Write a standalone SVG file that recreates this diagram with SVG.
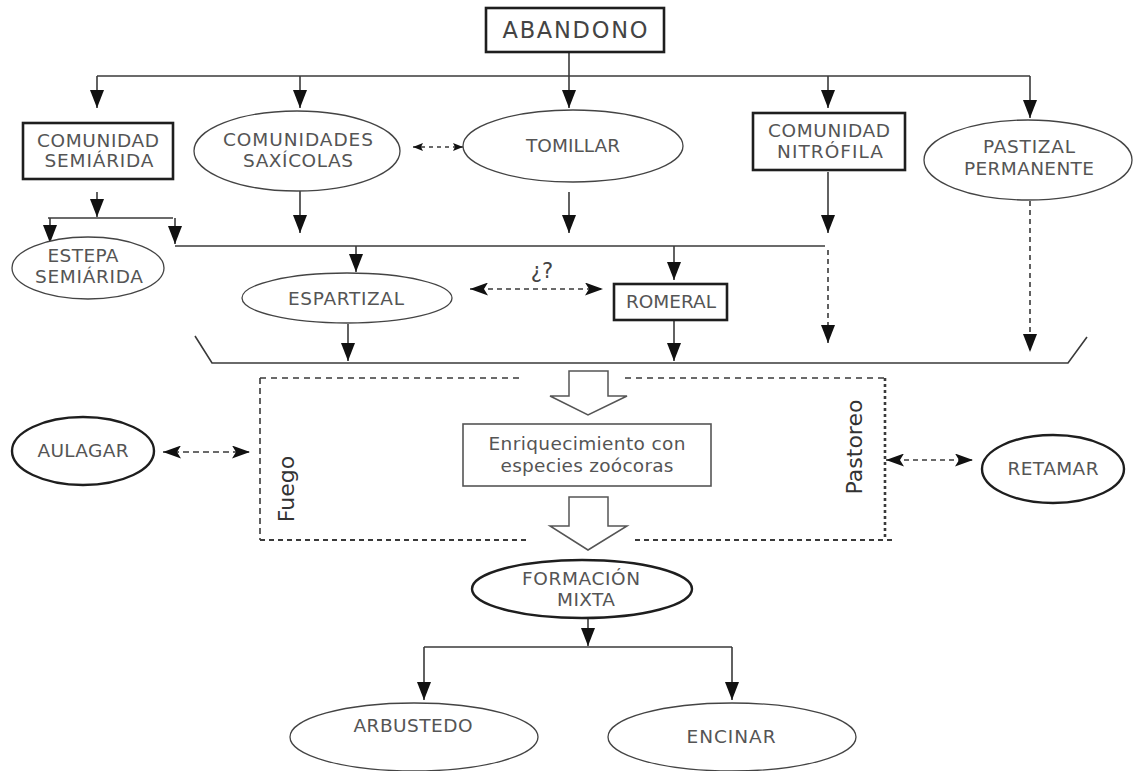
<svg xmlns="http://www.w3.org/2000/svg" width="1135" height="771" viewBox="0 0 1135 771">
<defs>
<style>
.ln{stroke:#3a3a3a;stroke-width:1.6;fill:none}
.ds{stroke-dasharray:5 4}
.box{fill:#fff;stroke:#1e1e1e;stroke-width:2.6}
.box2{fill:#fff;stroke:#555;stroke-width:1.6}
.ell{fill:#fff;stroke:#444;stroke-width:1.3}
.ellb{fill:#fff;stroke:#1e1e1e;stroke-width:2.4}
.t{font-family:"DejaVu Sans",Verdana,sans-serif;font-size:18.5px;fill:#555;text-anchor:middle}
.tr{font-family:"DejaVu Sans",Verdana,sans-serif;font-size:22px;fill:#333;text-anchor:middle}
.hollow{fill:#fff;stroke:#555;stroke-width:1.5}
</style>
<marker id="ah" viewBox="0 0 18 14" markerWidth="18" markerHeight="14" refX="18" refY="7" orient="auto" markerUnits="userSpaceOnUse"><path d="M0,0 L18,7 L0,14 z" fill="#111"/></marker>
<marker id="sh" viewBox="0 0 18 13" markerWidth="18" markerHeight="13" refX="18" refY="6.5" orient="auto-start-reverse" markerUnits="userSpaceOnUse"><path d="M0,0 L18,6.5 L0,13 L4,6.5 z" fill="#111"/></marker>
<marker id="th" viewBox="0 0 10 8" markerWidth="10" markerHeight="8" refX="10" refY="4" orient="auto-start-reverse" markerUnits="userSpaceOnUse"><path d="M0,0 L10,4 L0,8 L2,4 z" fill="#111"/></marker>
</defs>
<rect width="1135" height="771" fill="#fff"/>

<g id="connectors">
<line class="ln" x1="569" y1="52" x2="569" y2="108" marker-end="url(#ah)"/>
<line class="ln" x1="97" y1="76" x2="1030" y2="76"/>
<line class="ln" x1="97" y1="76" x2="97" y2="108" marker-end="url(#ah)"/>
<line class="ln" x1="300" y1="76" x2="300" y2="108" marker-end="url(#ah)"/>
<line class="ln" x1="828" y1="76" x2="828" y2="108" marker-end="url(#ah)"/>
<line class="ln" x1="1030" y1="76" x2="1030" y2="118" marker-end="url(#ah)"/>
<line class="ln" x1="97" y1="192" x2="97" y2="217" marker-end="url(#ah)"/>
<line class="ln" x1="48" y1="218" x2="173" y2="218"/>
<line class="ln" x1="50" y1="218" x2="50" y2="243" marker-end="url(#ah)"/>
<line class="ln" x1="175" y1="218" x2="175" y2="244" marker-end="url(#ah)"/>
<line class="ln" x1="175" y1="246" x2="825" y2="246"/>
<line class="ln" x1="300" y1="191" x2="300" y2="233" marker-end="url(#ah)"/>
<line class="ln" x1="569" y1="192" x2="569" y2="233" marker-end="url(#ah)"/>
<line class="ln" x1="828" y1="172" x2="828" y2="233" marker-end="url(#ah)"/>
<line class="ln" x1="356" y1="246" x2="356" y2="272" marker-end="url(#ah)"/>
<line class="ln" x1="674" y1="246" x2="674" y2="280" marker-end="url(#ah)"/>
<line class="ln ds" x1="828" y1="250" x2="828" y2="343" marker-end="url(#ah)"/>
<line class="ln ds" x1="1030" y1="201" x2="1030" y2="352" marker-end="url(#ah)"/>
<line class="ln" x1="413" y1="147" x2="463" y2="147" stroke-dasharray="4 4" marker-start="url(#th)" marker-end="url(#th)"/>
<line class="ln" x1="470" y1="289" x2="603" y2="289" stroke-dasharray="5 4" marker-start="url(#sh)" marker-end="url(#sh)"/>
<line class="ln" x1="348" y1="324" x2="348" y2="361" marker-end="url(#ah)"/>
<line class="ln" x1="674" y1="320" x2="674" y2="361" marker-end="url(#ah)"/>
<polyline class="ln" points="195,336 212,363 1068,363 1087,337"/>
<g class="ln">
<line x1="260" y1="378" x2="520" y2="378" stroke-dasharray="6 5"/>
<line x1="625" y1="378" x2="885" y2="378" stroke-dasharray="6 5"/>
<line x1="260" y1="378" x2="260" y2="540" stroke-dasharray="6 4"/>
<line x1="885" y1="378" x2="885" y2="540" stroke-dasharray="3 3" stroke-width="2.6"/>
<line x1="260" y1="540" x2="528" y2="540" stroke-dasharray="5 4" stroke-width="2.2"/>
<line x1="635" y1="540" x2="895" y2="540" stroke-dasharray="5 4" stroke-width="2.2"/>
</g>
<polygon class="hollow" points="569,371 608,371 608,396 627,396 588,415 550,396 569,396"/>
<polygon class="hollow" points="569,497 608,497 608,526 627,526 588,550 550,526 569,526"/>
<line class="ln" x1="163" y1="452" x2="250" y2="452" stroke-dasharray="6 4" stroke-width="2" marker-start="url(#sh)" marker-end="url(#sh)"/>
<line class="ln" x1="886" y1="460" x2="973" y2="460" stroke-dasharray="5 4" marker-start="url(#sh)" marker-end="url(#sh)"/>
<line class="ln" x1="588" y1="618" x2="588" y2="646" marker-end="url(#ah)"/>
<line class="ln" x1="424" y1="647" x2="732" y2="647"/>
<line class="ln" x1="424" y1="647" x2="424" y2="700" marker-end="url(#ah)"/>
<line class="ln" x1="732" y1="647" x2="732" y2="700" marker-end="url(#ah)"/>
</g>

<g id="abandono"><rect class="box" x="486" y="8" width="178" height="44"/><text class="t" x="575" y="38" style="font-size:22.5px;fill:#444" textLength="145" lengthAdjust="spacing">ABANDONO</text></g>
<g id="comunidad-semiarida"><rect class="box" x="23" y="123" width="150" height="56"/><text class="t" x="98" y="147" textLength="122" lengthAdjust="spacing">COMUNIDAD</text><text class="t" x="99" y="167" textLength="109" lengthAdjust="spacing">SEMIÁRIDA</text></g>
<g id="comunidades-saxicolas"><ellipse class="ell" cx="297" cy="151" rx="103" ry="40"/><text class="t" x="298" y="146" textLength="150" lengthAdjust="spacing">COMUNIDADES</text><text class="t" x="298" y="167" textLength="110" lengthAdjust="spacing">SAXÍCOLAS</text></g>
<g id="tomillar"><ellipse class="ell" cx="573" cy="146" rx="110" ry="36"/><text class="t" x="573" y="152" textLength="94" lengthAdjust="spacing">TOMILLAR</text></g>
<g id="comunidad-nitrofila"><rect class="box" x="753" y="113" width="152" height="57"/><text class="t" x="829" y="137" textLength="122" lengthAdjust="spacing">COMUNIDAD</text><text class="t" x="830" y="158" textLength="106" lengthAdjust="spacing">NITRÓFILA</text></g>
<g id="pastizal-permanente"><ellipse class="ell" cx="1028" cy="160" rx="104" ry="40"/><text class="t" x="1029" y="153" textLength="92" lengthAdjust="spacing">PASTIZAL</text><text class="t" x="1029" y="175" textLength="130" lengthAdjust="spacing">PERMANENTE</text></g>
<g id="estepa-semiarida"><ellipse class="ell" cx="88" cy="268" rx="76" ry="31"/><text class="t" x="83" y="262" textLength="71" lengthAdjust="spacing">ESTEPA</text><text class="t" x="89" y="283" textLength="108" lengthAdjust="spacing">SEMIÁRIDA</text></g>
<g id="espartizal"><ellipse class="ell" cx="347" cy="298" rx="105" ry="25"/><text class="t" x="346" y="305" textLength="116" lengthAdjust="spacing">ESPARTIZAL</text></g>
<g id="interrogacion"><text class="t" x="542" y="278" style="font-size:21px;fill:#444">¿?</text></g>
<g id="romeral"><rect class="box" x="614" y="284" width="113" height="36"/><text class="t" x="671" y="308" textLength="90" lengthAdjust="spacing">ROMERAL</text></g>
<g id="aulagar"><ellipse class="ellb" cx="83" cy="451" rx="71" ry="34"/><text class="t" x="83" y="457" textLength="91" lengthAdjust="spacing">AULAGAR</text></g>
<g id="enriquecimiento"><rect class="box2" x="463" y="424" width="248" height="62"/><text class="t" x="587" y="450" textLength="197" lengthAdjust="spacing">Enriquecimiento con</text><text class="t" x="587" y="472" textLength="173" lengthAdjust="spacing">especies zoócoras</text></g>
<g id="fuego"><text class="tr" transform="translate(294,489) rotate(-90)">Fuego</text></g>
<g id="pastoreo"><text class="tr" transform="translate(862,447) rotate(-90)">Pastoreo</text></g>
<g id="retamar"><ellipse class="ellb" cx="1053" cy="469" rx="71" ry="34"/><text class="t" x="1053" y="475" textLength="91" lengthAdjust="spacing">RETAMAR</text></g>
<g id="formacion-mixta"><ellipse class="ellb" cx="582" cy="589" rx="110" ry="29"/><text class="t" x="581" y="585" textLength="118" lengthAdjust="spacing">FORMACIÓN</text><text class="t" x="586" y="606" textLength="58" lengthAdjust="spacing">MIXTA</text></g>
<g id="arbustedo"><ellipse class="ell" cx="414" cy="737" rx="124" ry="34"/><text class="t" x="413" y="732" textLength="119" lengthAdjust="spacing">ARBUSTEDO</text></g>
<g id="encinar"><ellipse class="ell" cx="732" cy="737" rx="124" ry="34"/><text class="t" x="731" y="743" textLength="89" lengthAdjust="spacing">ENCINAR</text></g>
</svg>
